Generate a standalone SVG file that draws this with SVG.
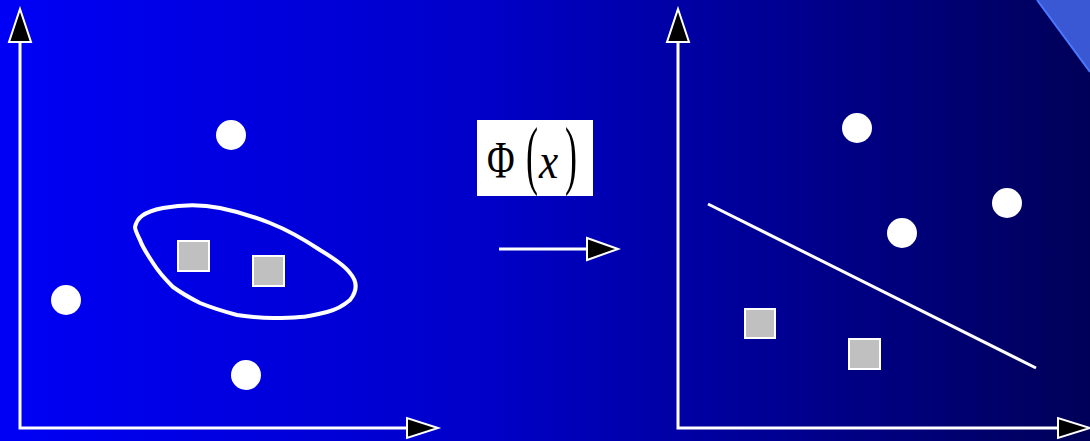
<svg xmlns="http://www.w3.org/2000/svg" width="1090" height="441" viewBox="0 0 1090 441">
<defs>
<linearGradient id="bg" x1="0" y1="0" x2="1" y2="0">
<stop offset="0" stop-color="#0000f6"/>
<stop offset="0.45" stop-color="#0000c8"/>
<stop offset="1" stop-color="#000058"/>
</linearGradient>
<style>
.ax{stroke:#fff;stroke-width:3;fill:none}
.ah{fill:#000;stroke:#fff;stroke-width:2;stroke-linejoin:miter}
.dot{fill:#fff}
.sq{fill:#c0c0c0;stroke:#fff;stroke-width:2}
.ln{stroke:#fff;stroke-width:3;fill:none}
.el{stroke:#fff;stroke-width:4;fill:none}
.m{font-family:"Liberation Serif",serif;fill:#000;font-size:36px}
</style>
</defs>
<rect width="1090" height="441" fill="url(#bg)"/>
<polygon points="1037,0 1090,0 1090,72" fill="#3a58d4"/>
<line x1="1037" y1="0" x2="1090" y2="72" stroke="#4a78ff" stroke-width="2"/>
<g id="connectors">
<g id="left-axes">
<path class="ax" d="M20,40 V428 H408"/>
<polygon class="ah" points="20,9 31,42 9,42"/>
<polygon class="ah" points="438,428 407,418 407,438"/>
</g>
<g id="right-axes">
<path class="ax" d="M678,40 V428 H1058"/>
<polygon class="ah" points="678,9 689,42 667,42"/>
<polygon class="ah" points="1090,428 1058,418 1058,438"/>
</g>
<g id="map-arrow">
<line class="ax" x1="499" y1="249" x2="588" y2="249"/>
<polygon class="ah" points="618,249 587,238 587,260"/>
</g>
<line id="separator" class="ln" x1="708" y1="204" x2="1036" y2="368"/>
</g>
<g id="ellipse">
<path class="el" d="M135,227 C137,218 143,212 163,208 C180,205 200,204 220,208 C240,212 255,217 270,223 C290,231 305,240 320,250 C335,259 345,266 350,273 C357,281 358,290 350,300 C343,306 335,310 327,312 C315,315 305,317 300,317 C290,318 280,318 273,318 C262,318 250,317 237,315 C222,311 210,307 200,303 C188,297 180,292 173,287 C165,279 158,271 153,263 C147,254 142,246 140,240 C137,234 135,230 135,227 Z"/>
</g>
<g id="left-points">
<circle id="c1" class="dot" cx="231" cy="135" r="15"/>
<circle id="c2" class="dot" cx="66" cy="300" r="15"/>
<circle id="c3" class="dot" cx="246" cy="375" r="15"/>
<rect id="s1" class="sq" x="178" y="241" width="31" height="30"/>
<rect id="s2" class="sq" x="253" y="256" width="31" height="30"/>
</g>
<g id="right-points">
<circle id="c4" class="dot" cx="857" cy="128" r="15"/>
<circle id="c5" class="dot" cx="1007" cy="203" r="15"/>
<circle id="c6" class="dot" cx="902" cy="233" r="15"/>
<rect id="s3" class="sq" x="745" y="309" width="30" height="29"/>
<rect id="s4" class="sq" x="849" y="339" width="31" height="30"/>
</g>
<g id="phi-label">
<rect x="477" y="120" width="116" height="76" fill="#fff"/>
<text class="m" transform="translate(487,178) scale(1.05,1.45)">Φ</text>
<text class="m" transform="translate(526,180) scale(1,2.1)">(</text>
<text class="m" font-style="italic" transform="translate(539,178) scale(1.2,1.4)">x</text>
<text class="m" transform="translate(565,180) scale(1,2.1)">)</text>
</g>
</svg>
